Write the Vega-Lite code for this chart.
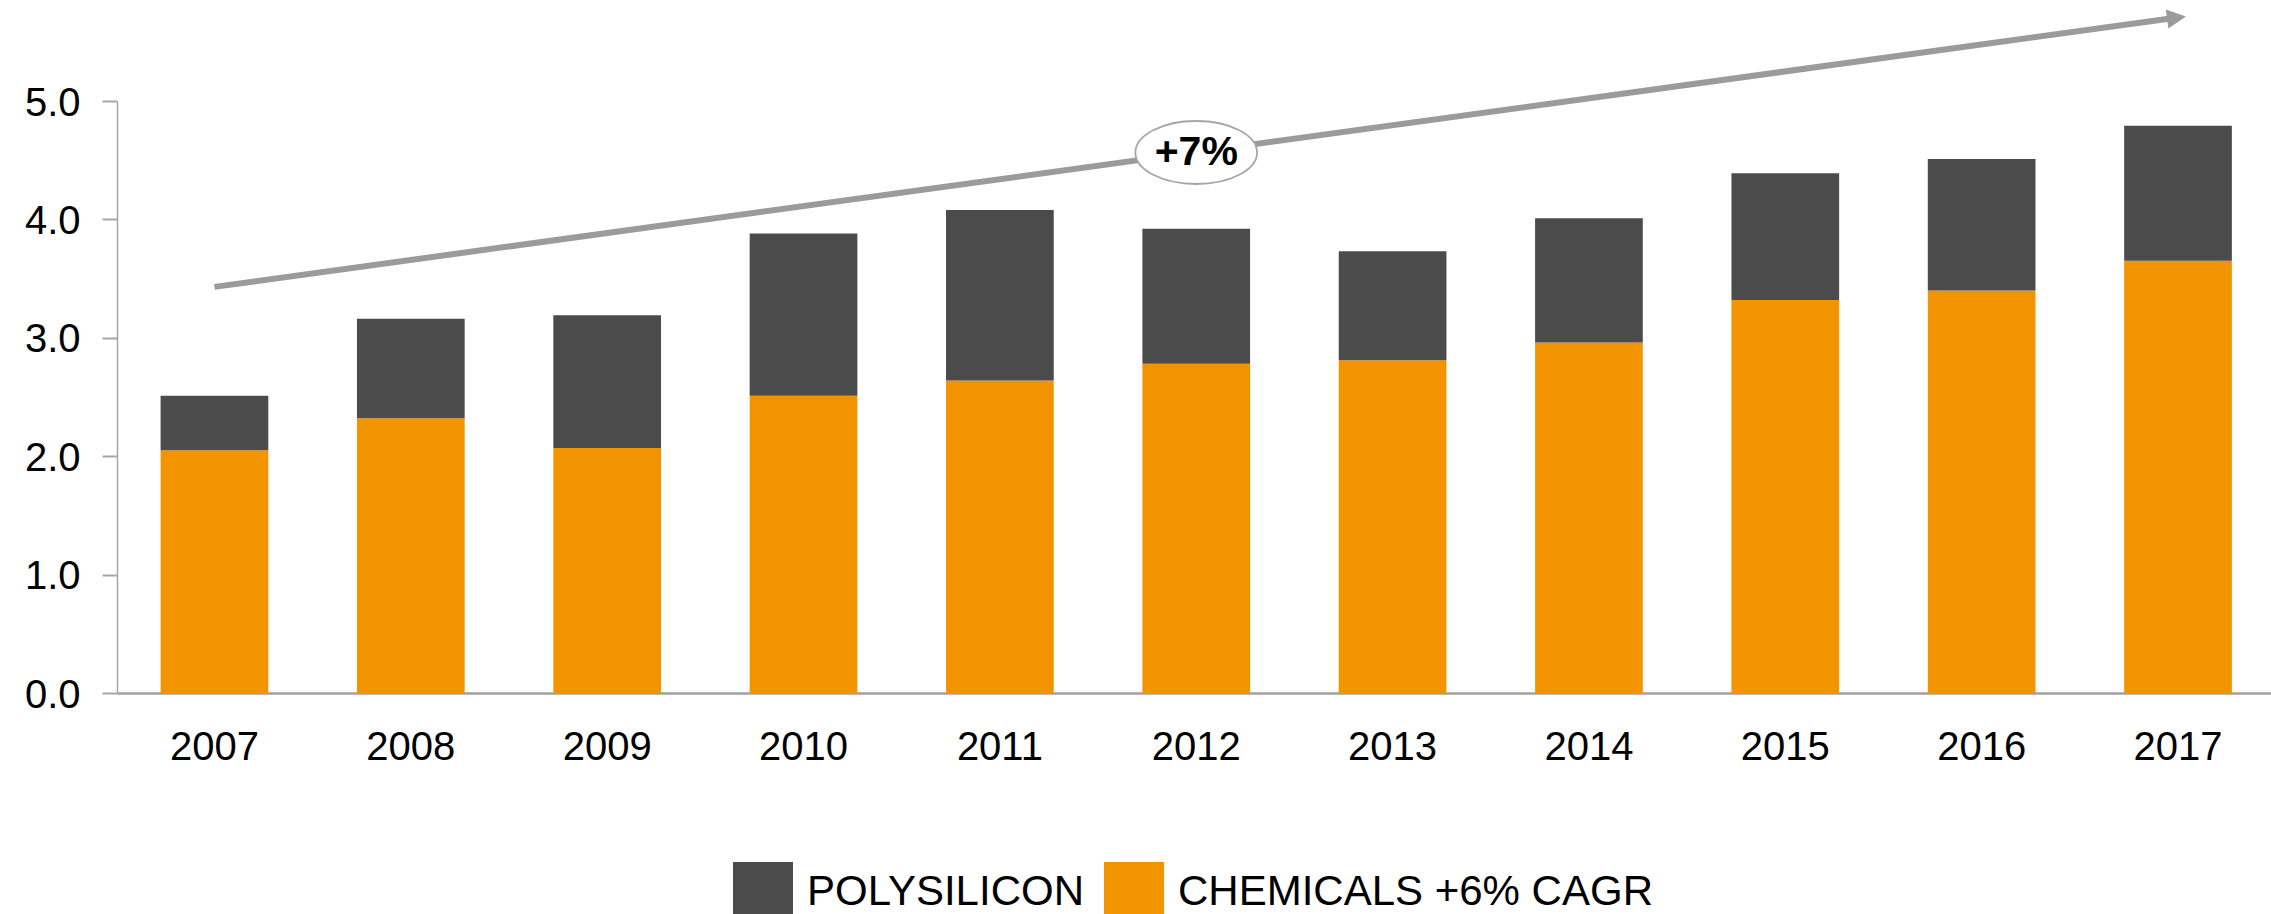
{
  "$schema": "https://vega.github.io/schema/vega-lite/v6.json",
  "width": 2154,
  "height": 592,
  "autosize": {"type": "none"},
  "padding": {"left": 117, "top": 101, "right": 0, "bottom": 221},
  "background": "white",
  "config": {"view": {"stroke": null}, "font": "Liberation Sans"},
  "datasets": {
    "bars": [
      {"year": "2007", "series": "CHEMICALS +6% CAGR", "value": 2.05},
      {"year": "2007", "series": "POLYSILICON", "value": 0.46},
      {"year": "2008", "series": "CHEMICALS +6% CAGR", "value": 2.32},
      {"year": "2008", "series": "POLYSILICON", "value": 0.84},
      {"year": "2009", "series": "CHEMICALS +6% CAGR", "value": 2.07},
      {"year": "2009", "series": "POLYSILICON", "value": 1.12},
      {"year": "2010", "series": "CHEMICALS +6% CAGR", "value": 2.51},
      {"year": "2010", "series": "POLYSILICON", "value": 1.37},
      {"year": "2011", "series": "CHEMICALS +6% CAGR", "value": 2.64},
      {"year": "2011", "series": "POLYSILICON", "value": 1.44},
      {"year": "2012", "series": "CHEMICALS +6% CAGR", "value": 2.78},
      {"year": "2012", "series": "POLYSILICON", "value": 1.14},
      {"year": "2013", "series": "CHEMICALS +6% CAGR", "value": 2.81},
      {"year": "2013", "series": "POLYSILICON", "value": 0.92},
      {"year": "2014", "series": "CHEMICALS +6% CAGR", "value": 2.96},
      {"year": "2014", "series": "POLYSILICON", "value": 1.05},
      {"year": "2015", "series": "CHEMICALS +6% CAGR", "value": 3.32},
      {"year": "2015", "series": "POLYSILICON", "value": 1.07},
      {"year": "2016", "series": "CHEMICALS +6% CAGR", "value": 3.40},
      {"year": "2016", "series": "POLYSILICON", "value": 1.11},
      {"year": "2017", "series": "CHEMICALS +6% CAGR", "value": 3.65},
      {"year": "2017", "series": "POLYSILICON", "value": 1.14}
    ],
    "arrow": [{"year": "2007", "v": 3.43}, {"year": "2017", "v": 5.705}],
    "head": [{"year": "2017", "v": 5.705}],
    "label": [{"year": "2012", "v": 4.565, "text": "+7%"}]
  },
  "layer": [
    {
      "data": {"name": "bars"},
      "mark": {"type": "bar"},
      "encoding": {
        "x": {
          "field": "year",
          "type": "ordinal",
          "scale": {"paddingInner": 0.4515, "paddingOuter": 0.2107, "align": 0.527},
          "axis": {
            "title": null,
            "labelAngle": 0,
            "ticks": false,
            "tickSize": 0,
            "domainColor": "#a0a0a0",
            "domainWidth": 2.7,
            "labelFontSize": 40,
            "labelFont": "Liberation Sans",
            "labelColor": "black",
            "labelPadding": 34
          }
        },
        "y": {
          "field": "value",
          "type": "quantitative",
          "stack": "zero",
          "scale": {"domain": [0, 5], "nice": false, "zero": true},
          "axis": {
            "title": null,
            "values": [0, 1, 2, 3, 4, 5],
            "format": ".1f",
            "grid": false,
            "domainColor": "#a6a6a6",
            "domainWidth": 1.5,
            "tickColor": "#a6a6a6",
            "tickWidth": 2,
            "tickSize": 15,
            "labelFontSize": 40,
            "labelFont": "Liberation Sans",
            "labelColor": "black",
            "labelPadding": 22,
            "labelOffset": 2,
            "labelFlush": false
          }
        },
        "color": {
          "field": "series",
          "type": "nominal",
          "scale": {"domain": ["POLYSILICON", "CHEMICALS +6% CAGR"], "range": ["#4b4b4b", "#f29400"]},
          "legend": {
            "title": null,
            "orient": "none",
            "legendX": 616,
            "legendY": 761,
            "direction": "horizontal",
            "symbolType": "square",
            "symbolSize": 3600,
            "symbolStrokeWidth": 0,
            "symbolOpacity": 1,
            "labelFontSize": 42,
            "labelFont": "Liberation Sans",
            "labelColor": "black",
            "labelOffset": 14,
            "columnPadding": 20,
            "labelLimit": 1000,
            "padding": 0
          }
        },
        "order": {"field": "series", "sort": "ascending"}
      }
    },
    {
      "data": {"name": "arrow"},
      "mark": {"type": "line", "color": "#9b9b9b", "strokeWidth": 6, "clip": false},
      "encoding": {
        "x": {"field": "year", "type": "ordinal"},
        "y": {"field": "v", "type": "quantitative"}
      }
    },
    {
      "data": {"name": "head"},
      "mark": {
        "type": "point",
        "shape": "M -1.16 -1 L 0.84 0 L -1.16 1 Z",
        "size": 361,
        "filled": true,
        "color": "#9b9b9b",
        "opacity": 1,
        "angle": 352.2,
        "clip": false
      },
      "encoding": {
        "x": {"field": "year", "type": "ordinal"},
        "y": {"field": "v", "type": "quantitative"}
      }
    },
    {
      "data": {"name": "label"},
      "mark": {
        "type": "point",
        "shape": "M -1 0 A 1 0.518 0 1 0 1 0 A 1 0.518 0 1 0 -1 0 Z",
        "size": 14811,
        "filled": true,
        "fill": "white",
        "stroke": "#a6a6a6",
        "strokeWidth": 1.8,
        "opacity": 1
      },
      "encoding": {
        "x": {"field": "year", "type": "ordinal"},
        "y": {"field": "v", "type": "quantitative"}
      }
    },
    {
      "data": {"name": "label"},
      "mark": {
        "type": "text",
        "font": "Liberation Sans",
        "fontSize": 41,
        "fontWeight": "bold",
        "color": "black",
        "baseline": "middle",
        "align": "center"
      },
      "encoding": {
        "x": {"field": "year", "type": "ordinal"},
        "y": {"field": "v", "type": "quantitative"},
        "text": {"field": "text"}
      }
    }
  ]
}
